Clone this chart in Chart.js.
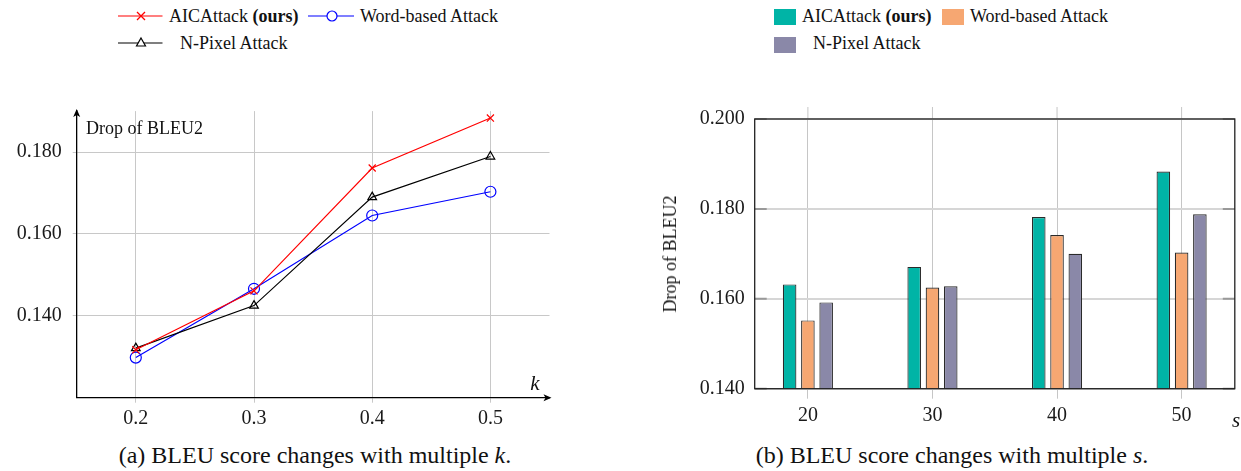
<!DOCTYPE html>
<html>
<head>
<meta charset="utf-8">
<title>BLEU drop with k and s</title>
<script src="https://cdn.jsdelivr.net/npm/chart.js"></script>
<style>
  body { margin: 0; background: #fff; }
  #page { position: relative; width: 1241px; height: 471px; overflow: hidden;
          font-family: "Liberation Serif", "Times New Roman", Times, "DejaVu Serif", serif; color: #111; }
  .abs { position: absolute; white-space: nowrap; }
  .leg { font-size: 18px; line-height: 20px; }
  .cap { font-size: 24px; line-height: 26px; transform: translate(-50%, -50%); }
  .math { font-style: italic; font-size: 21px; line-height: 24px; transform: translate(-50%, -50%); }
  .swatch { position: absolute; width: 22px; height: 16px; }
</style>
</head>
<body>
<div id="page">
  <!-- legend (a) -->
  <svg class="abs" style="left:0;top:0" width="560" height="60">
    <line x1="118" y1="16" x2="162.5" y2="16" stroke="#ff0000" stroke-width="1.2"/>
    <path d="M137 12 L145 20 M145 12 L137 20" stroke="#ff0000" stroke-width="1.3"/>
    <line x1="308" y1="16" x2="354" y2="16" stroke="#0000ff" stroke-width="1.2"/>
    <circle cx="332" cy="16" r="5" fill="#fff" stroke="#0000ff" stroke-width="1.2"/>
    <line x1="118" y1="43" x2="162.5" y2="43" stroke="#000" stroke-width="1.2"/>
    <path d="M141 38 L145.5 46 L136.5 46 Z" fill="#fff" stroke="#000" stroke-width="1.2"/>
  </svg>
  <div class="abs leg" style="left:169px;top:6px">AICAttack <b>(ours)</b></div>
  <div class="abs leg" style="left:360px;top:6px">Word-based Attack</div>
  <div class="abs leg" style="left:180px;top:33px">N-Pixel Attack</div>

  <!-- legend (b) -->
  <div class="swatch" style="left:774px;top:9px;background:rgb(0,180,166)"></div>
  <div class="abs leg" style="left:802px;top:6px">AICAttack <b>(ours)</b></div>
  <div class="swatch" style="left:942px;top:9px;background:rgb(246,167,114)"></div>
  <div class="abs leg" style="left:970px;top:6px">Word-based Attack</div>
  <div class="swatch" style="left:774px;top:37px;background:rgb(138,136,168)"></div>
  <div class="abs leg" style="left:813px;top:33px">N-Pixel Attack</div>

  <canvas id="kChart" class="abs" style="left:0;top:60px"></canvas>
  <canvas id="sChart" class="abs" style="left:640px;top:90px"></canvas>

  <div class="abs leg" style="left:86px;top:118px">Drop of BLEU2</div>
  <div class="abs math" style="left:535px;top:383px">k</div>
  <div class="abs leg" style="left:670px;top:254px;transform:translate(-50%,-50%) rotate(-90deg)">Drop of BLEU2</div>
  <div class="abs math" style="left:1236px;top:420px">s</div>

  <div class="abs cap" style="left:315px;top:455px">(a) BLEU score changes with multiple <i>k</i>.</div>
  <div class="abs cap" style="left:952px;top:455px">(b) BLEU score changes with multiple <i>s</i>.</div>
</div>

<script>
// (a) drop of BLEU2 against k
const kValues = [0.2, 0.3, 0.4, 0.5];
const kAic = [0.1317, 0.1461, 0.1761, 0.1883];
const kWord = [0.1298, 0.1466, 0.1645, 0.1703];
const kPixel = [0.1321, 0.1425, 0.1690, 0.1789];
const kTicksY = [0.14, 0.16, 0.18];

// (b) drop of BLEU2 against s
const sValues = [20, 30, 40, 50];
const sAic = [0.1632, 0.1671, 0.1782, 0.1883];
const sWord = [0.1552, 0.1625, 0.1742, 0.1703];
const sPixel = [0.1592, 0.1628, 0.1700, 0.1788];
const sTicksY = [0.14, 0.16, 0.18, 0.20];

const serif = '"Liberation Serif", "Times New Roman", Times, "DejaVu Serif", serif';
const tickFont = { family: serif, size: 20 };
const toPoints = (xs, ys) => xs.map((x, i) => ({ x: x, y: ys[i] }));

const setup = (id, w, h) => {
    const c = document.getElementById(id);
    c.width = w; c.height = h;
    c.style.width = w + 'px'; c.style.height = h + 'px';
    return c;
};

// arrow heads on the axis ends of chart (a)
const arrowPlugin = {
    id: 'arrows',
    afterDraw(chart) {
        const { ctx, chartArea: a } = chart;
        ctx.save();
        ctx.fillStyle = '#000';
        ctx.beginPath();
        ctx.moveTo(a.left, a.top - 2);
        ctx.lineTo(a.left + 3.5, a.top + 6);
        ctx.lineTo(a.left, a.top + 4);
        ctx.lineTo(a.left - 3.5, a.top + 6);
        ctx.closePath();
        ctx.fill();
        ctx.beginPath();
        ctx.moveTo(a.right + 2, a.bottom);
        ctx.lineTo(a.right - 6, a.bottom - 3.5);
        ctx.lineTo(a.right - 4, a.bottom);
        ctx.lineTo(a.right - 6, a.bottom + 3.5);
        ctx.closePath();
        ctx.fill();
        ctx.restore();
    }
};

const lineSet = (label, ys, color, style, radius) => ({
    label: label,
    data: toPoints(kValues, ys),
    borderColor: color,
    backgroundColor: 'rgba(0,0,0,0)',
    borderWidth: 1.2,
    pointStyle: style,
    pointRadius: radius,
    pointBorderWidth: 1.2,
    pointBorderColor: color,
    pointBackgroundColor: 'rgba(0,0,0,0)',
    tension: 0
});

new Chart(setup('kChart', 600, 380), {
    type: 'line',
    data: {
        datasets: [
            lineSet('AICAttack (ours)', kAic, '#ff0000', 'crossRot', 5),
            lineSet('N-Pixel Attack', kPixel, '#000000', 'triangle', 5),
            lineSet('Word-based Attack', kWord, '#0000ff', 'circle', 5.5)
        ]
    },
    options: {
        responsive: false,
        animation: false,
        layout: { padding: { top: 51.1, right: 50.5, left: 0, bottom: 0 } },
        plugins: { legend: { display: false }, tooltip: { enabled: false } },
        scales: {
            x: {
                type: 'linear', min: 0.15, max: 0.55,
                afterBuildTicks: s => { s.ticks = kValues.map(v => ({ value: v })); },
                afterFit: s => { s.height = 42.3; },
                ticks: { callback: v => v.toFixed(1), font: tickFont, color: '#1a1a1a', padding: 4, maxRotation: 0, autoSkip: false },
                grid: { color: '#c8c8c8', lineWidth: 1, tickLength: 5 },
                border: { color: '#000', width: 1.3 }
            },
            y: {
                min: 0.12, max: 0.19,
                afterBuildTicks: s => { s.ticks = kTicksY.map(v => ({ value: v })); },
                afterFit: s => { s.width = 76.7; },
                ticks: { callback: v => v.toFixed(3), font: tickFont, color: '#1a1a1a', padding: 11 },
                grid: { color: '#c8c8c8', lineWidth: 1, tickLength: 4 },
                border: { color: '#000', width: 1.3 }
            }
        }
    },
    plugins: [arrowPlugin]
});

// frame, inner ticks and top grid stubs of chart (b)
const framePlugin = {
    id: 'frame',
    beforeDatasetsDraw(chart) {
        const { ctx, chartArea: a, scales } = chart;
        ctx.save();
        ctx.strokeStyle = '#c6c6c6';
        ctx.lineWidth = 1;
        sValues.forEach(v => {
            const x = scales.x.getPixelForValue(v);
            ctx.beginPath();
            ctx.moveTo(x, a.top - 12);
            ctx.lineTo(x, a.top);
            ctx.stroke();
        });
        ctx.restore();
    },
    afterDraw(chart) {
        const { ctx, chartArea: a, scales } = chart;
        ctx.save();
        ctx.strokeStyle = '#999';
        ctx.lineWidth = 2;
        sTicksY.forEach(v => {
            const y = scales.y.getPixelForValue(v);
            ctx.beginPath();
            ctx.moveTo(a.left, y); ctx.lineTo(a.left + 12, y);
            ctx.moveTo(a.right - 12, y); ctx.lineTo(a.right, y);
            ctx.stroke();
        });
        ctx.strokeStyle = '#222';
        ctx.lineWidth = 1.3;
        ctx.strokeRect(a.left, a.top, a.right - a.left, a.bottom - a.top);
        ctx.restore();
    }
};

const barSet = (label, ys, color) => ({
    label: label,
    data: toPoints(sValues, ys),
    backgroundColor: color,
    borderColor: '#2a2a2a',
    borderWidth: 1.2,
    categoryPercentage: 0.44,
    barPercentage: 0.743
});

new Chart(setup('sChart', 601, 350), {
    type: 'bar',
    data: {
        datasets: [
            barSet('AICAttack (ours)', sAic, 'rgb(0,180,166)'),
            barSet('Word-based Attack', sWord, 'rgb(246,167,114)'),
            barSet('N-Pixel Attack', sPixel, 'rgb(138,136,168)')
        ]
    },
    options: {
        responsive: false,
        animation: false,
        layout: { padding: { top: 29, right: 6.2, left: 0, bottom: 0 } },
        plugins: { legend: { display: false }, tooltip: { enabled: false } },
        scales: {
            x: {
                type: 'linear', min: 15.73, max: 54.27, offset: false,
                afterBuildTicks: s => { s.ticks = sValues.map(v => ({ value: v })); },
                afterFit: s => { s.height = 51.3; },
                ticks: { callback: v => String(v), font: tickFont, color: '#1a1a1a', padding: 5, maxRotation: 0, autoSkip: false },
                grid: { color: '#c6c6c6', lineWidth: 1, tickLength: 10, offset: false },
                border: { display: false }
            },
            y: {
                min: 0.14, max: 0.20, beginAtZero: false,
                afterBuildTicks: s => { s.ticks = sTicksY.map(v => ({ value: v })); },
                afterFit: s => { s.width = 114.7; },
                ticks: { callback: v => v.toFixed(3), font: tickFont, color: '#1a1a1a', padding: 10 },
                grid: { color: '#d6d6d6', lineWidth: 2, drawTicks: false },
                border: { display: false }
            }
        }
    },
    plugins: [framePlugin]
});
</script>
</body>
</html>
